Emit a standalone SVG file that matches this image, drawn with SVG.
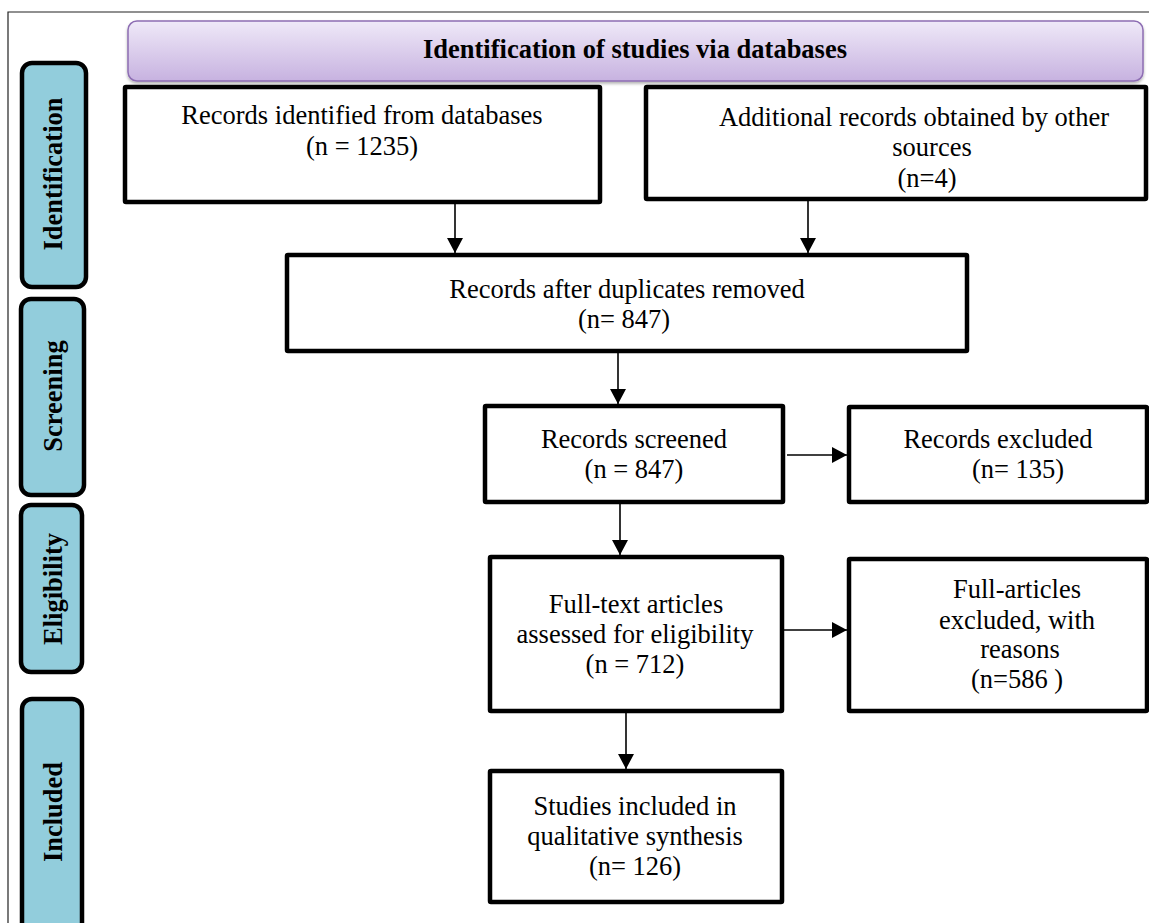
<svg xmlns="http://www.w3.org/2000/svg" width="1149" height="923" viewBox="0 0 1149 923">
<defs>
<style>
.t{font-family:"Liberation Serif","Times New Roman",Times,"DejaVu Serif",serif;font-size:26.5px;font-weight:normal;fill:#000;text-anchor:middle}
.b{font-weight:bold}
.box{fill:#fff;stroke:#000;stroke-width:4.5}
.side{fill:#92cddc;stroke:#000;stroke-width:4.5}
.c{stroke:#000;stroke-width:1.6;fill:none;marker-end:url(#ah)}
</style>
<linearGradient id="bg" x1="0" y1="0" x2="0" y2="1">
<stop offset="0" stop-color="#efe9f8"/>
<stop offset="1" stop-color="#c7b2e0"/>
</linearGradient>
<filter id="sh" x="-5%" y="-20%" width="110%" height="150%">
<feDropShadow dx="0" dy="2" stdDeviation="1.5" flood-color="#000" flood-opacity="0.3"/>
</filter>
<marker id="ah" markerWidth="17" markerHeight="16" refX="15" refY="8" orient="auto" markerUnits="userSpaceOnUse">
<path d="M0,0 L15,8 L0,16 Z" fill="#000"/>
</marker>
</defs>
<rect width="1149" height="923" fill="#fff"/>
<path d="M8,923 V12 H1149" fill="none" stroke="#222" stroke-width="1.2"/>

<g id="banner">
<rect x="128" y="21" width="1015" height="60" rx="9" fill="url(#bg)" stroke="#8d6db3" stroke-width="1.5" filter="url(#sh)"/>
<text class="t b" x="635" y="58">Identification of studies via databases</text>
</g>

<g id="stage-identification">
<rect class="side" x="22" y="63" width="64" height="224" rx="10"/>
<text class="t b" transform="translate(62,174) rotate(-90)">Identification</text>
</g>
<g id="stage-screening">
<rect class="side" x="21" y="299" width="63" height="196" rx="10"/>
<text class="t b" transform="translate(62,396) rotate(-90)">Screening</text>
</g>
<g id="stage-eligibility">
<rect class="side" x="21" y="505" width="61" height="167" rx="10"/>
<text class="t b" transform="translate(62,589) rotate(-90)">Eligibility</text>
</g>
<g id="stage-included">
<rect class="side" x="22" y="699" width="60" height="240" rx="10"/>
<text class="t b" transform="translate(62,812) rotate(-90)">Included</text>
</g>

<g id="n-databases">
<rect class="box" x="125" y="87" width="475" height="115" rx="1"/>
<text class="t" x="362" y="124">Records identified from databases</text>
<text class="t" x="362" y="155">(n = 1235)</text>
</g>
<g id="n-other">
<rect class="box" x="646" y="87" width="500" height="112" rx="1"/>
<text class="t" x="914" y="126">Additional records obtained by other</text>
<text class="t" x="932" y="156">sources</text>
<text class="t" x="927" y="187">(n=4)</text>
</g>
<g id="n-dup">
<rect class="box" x="287" y="255" width="680" height="96" rx="1"/>
<text class="t" x="627" y="298">Records after duplicates removed</text>
<text class="t" x="624" y="328">(n= 847)</text>
</g>
<g id="n-screened">
<rect class="box" x="485" y="406" width="298" height="96" rx="1"/>
<text class="t" x="634" y="448">Records screened</text>
<text class="t" x="634" y="478">(n = 847)</text>
</g>
<g id="n-excluded">
<rect class="box" x="849" y="407" width="298" height="95" rx="1"/>
<text class="t" x="998" y="448">Records excluded</text>
<text class="t" x="1018" y="478">(n= 135)</text>
</g>
<g id="n-fulltext">
<rect class="box" x="490" y="557" width="292" height="154" rx="1"/>
<text class="t" x="636" y="613">Full-text articles</text>
<text class="t" x="635" y="643">assessed for eligibility</text>
<text class="t" x="635" y="673">(n = 712)</text>
</g>
<g id="n-fullexcl">
<rect class="box" x="849" y="559" width="298" height="152" rx="1"/>
<text class="t" x="1017" y="598">Full-articles</text>
<text class="t" x="1017" y="629">excluded, with</text>
<text class="t" x="1020" y="658">reasons</text>
<text class="t" x="1017" y="688">(n=586 )</text>
</g>
<g id="n-included">
<rect class="box" x="490" y="771" width="292" height="131" rx="1"/>
<text class="t" x="635" y="815">Studies included in</text>
<text class="t" x="635" y="845">qualitative synthesis</text>
<text class="t" x="635" y="875">(n= 126)</text>
</g>

<g id="connectors">
<path class="c" d="M455,204 V253"/>
<path class="c" d="M808,201 V253"/>
<path class="c" d="M618,353 V404"/>
<path class="c" d="M620,504 V555"/>
<path class="c" d="M626,713 V769"/>
<path class="c" d="M787,455 H847"/>
<path class="c" d="M784,630 H847"/>
</g>
</svg>
